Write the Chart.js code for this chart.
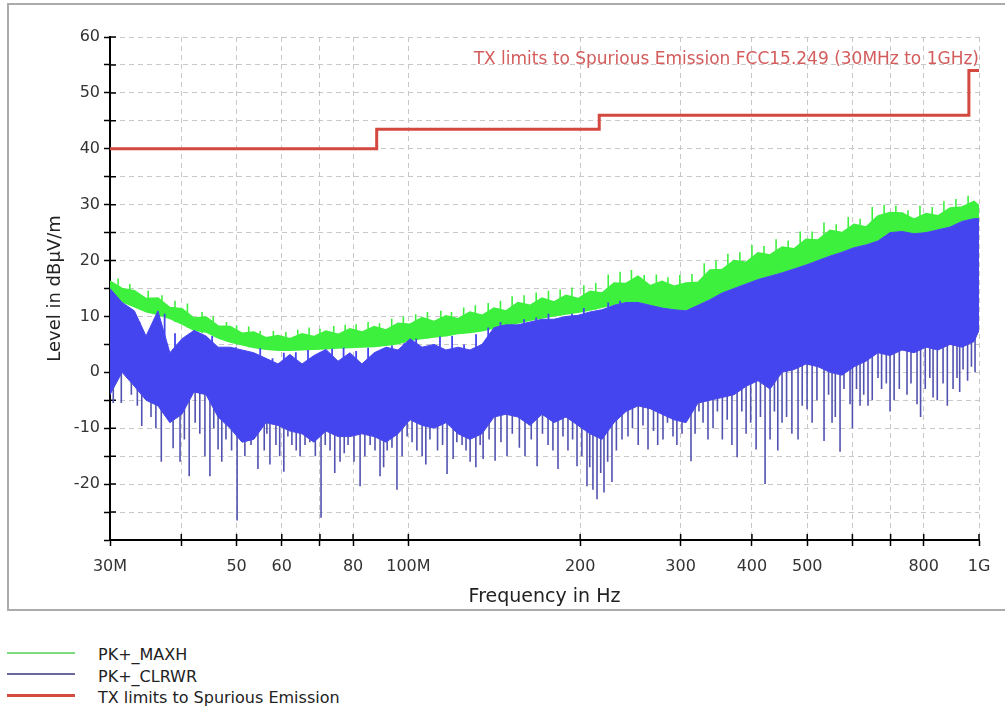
<!DOCTYPE html>
<html>
<head>
<meta charset="utf-8">
<title>Spurious emission scan</title>
<script src="https://cdn.jsdelivr.net/npm/chart.js@4.4.1/dist/chart.umd.min.js"></script>
<style>
  html, body { margin: 0; background: #fff; overflow: hidden; }
  body { font-family: "DejaVu Sans", sans-serif; }
  #box { position: absolute; left: 7px; top: 3px; width: 1000px; height: 604px; border: 2px solid #ababab; }
  #legend { position: absolute; left: 0; top: 644px; font-size: 16px; color: #222; }
  .row { position: relative; height: 21.5px; line-height: 21.5px; padding-left: 98px; white-space: nowrap; }
  .row span { position: absolute; left: 7px; width: 68px; }
</style>
</head>
<body>
<div id="box"><canvas id="scan" width="1000" height="604"></canvas></div>
<div id="legend">
  <div class="row"><span style="top:8px;border-top:2px solid #7ddc7d"></span>PK+_MAXH</div>
  <div class="row"><span style="top:7px;border-top:2px solid #6a6a9a"></span>PK+_CLRWR</div>
  <div class="row"><span style="top:7px;border-top:3px solid #d24a40"></span>TX limits to Spurious Emission</div>
</div>
<script>
// frequencies in MHz
const freqMHz = [30, 31.5, 33.1, 34.7, 36.4, 38.2, 40.1, 42.1, 44.2, 46.4,
  48.7, 51.1, 53.6, 56.3, 59.1, 62.0, 65.1, 68.3, 71.7, 75.3,
  79.0, 82.9, 87.1, 91.4, 95.9, 100.7, 105.7, 110.9, 116.4, 122.2,
  128.2, 134.6, 141.3, 148.3, 155.6, 163.4, 171.5, 180.0, 188.9, 198.3,
  208.1, 218.5, 229.3, 240.7, 252.6, 265.2, 278.3, 292.1, 306.6, 321.8,
  337.8, 354.6, 372.2, 390.6, 410.0, 430.3, 451.7, 474.1, 497.6, 522.3,
  548.2, 575.5, 604.0, 633.9, 665.3, 698.4, 733.0, 769.4, 807.6, 847.6,
  889.7, 933.8, 980.2, 1000];

// PK+_MAXH trace, upper and lower edge of the green band (dBuV/m)
const maxhPeak = [16.3, 15.0, 14.6, 13.2, 13.3, 11.6, 11.4, 9.7, 9.9, 8.3,
  8.2, 7.0, 7.2, 6.2, 6.6, 6.0, 6.9, 6.4, 7.4, 6.8,
  7.8, 7.2, 8.2, 7.6, 8.8, 8.6, 9.8, 9.1, 10.1, 9.6,
  10.8, 10.2, 11.5, 11.0, 12.5, 12.0, 13.3, 12.6, 13.8, 13.2,
  14.5, 14.2, 16.0, 15.9, 17.2, 15.5, 16.3, 15.4, 16.0, 16.1,
  18.3, 18.4, 20.0, 19.7, 21.4, 21.0, 22.4, 22.1, 23.8, 23.7,
  25.4, 25.0, 26.5, 26.0, 28.0, 28.6, 28.5, 27.4, 28.4, 28.0,
  29.4, 29.6, 30.6, 29.8];
const maxhFloor = [14.5, 12.5, 11.6, 10.7, 10.2, 9.5, 8.5, 7.4, 7.1, 6.0,
  5.3, 4.8, 4.3, 4.0, 3.8, 3.8, 3.9, 4.0, 4.1, 4.2,
  4.3, 4.4, 4.5, 4.7, 5.0, 5.6, 5.9, 6.2, 6.4, 6.8,
  7.0, 7.3, 7.8, 8.3, 8.7, 9.2, 9.6, 10.0, 10.3, 10.6,
  11.0, 11.5, 12.0, 12.5, 12.5, 12.0, 11.5, 11.2, 11.0, 12.0,
  13.0, 14.2, 15.0, 15.8, 16.6, 17.2, 17.8, 18.5, 19.2, 20.0,
  20.8, 21.5, 22.3, 22.8, 23.5, 25.0, 25.2, 24.8, 25.0, 25.5,
  26.0, 27.0, 27.5, 27.5];

// single PK+_MAXH peaks sticking out of the band: freq, peak, band level
const maxhSpikeFreqs = [31, 32.5, 35, 37, 39, 41, 43.5, 45.5, 48, 50,
  52.5, 55, 58, 61, 64, 67, 70, 74, 77.5, 81,
  85, 89, 93.5, 98, 103, 108, 114, 119, 125, 131,
  138, 145, 152, 159.5, 167.5, 176, 184.5, 193.5, 203, 213,
  224, 235, 246, 259, 272, 285, 299, 314, 330, 346,
  363, 381, 400, 420, 441, 463, 486, 510, 535, 562,
  590, 619, 650, 682, 715, 751, 788, 828, 868, 911, 957];
const maxhSpikeLevels = [16.8, 15.8, 14.6, 13.8, 12.8, 12.3, 10.8, 10, 9, 8.4,
  8.2, 7.4, 7.4, 7.2, 7.6, 8, 7.8, 8.3, 8.5, 8.6,
  9, 8.8, 9.6, 10, 10.4, 10.8, 11, 10.8, 11.6, 12,
  12.4, 12.8, 13.6, 13.8, 14.3, 14.6, 14.8, 15.2, 15.6, 16,
  17.5, 18, 18.3, 17.4, 17.5, 17, 17.4, 17.6, 19.5, 20,
  21.2, 21.5, 22.8, 22.6, 23.8, 23.6, 25.2, 25.2, 26.8, 26.5,
  27.8, 27.5, 29.6, 30, 29.8, 29, 29.8, 29.6, 30.6, 31, 31.6];
const maxhSpikeFrom = [13, 12, 11, 10, 9, 8, 7, 6.5, 5.5, 5,
  4.5, 4.2, 4, 4, 4, 4, 4.2, 4.2, 4.3, 4.4,
  4.5, 4.6, 4.8, 5.3, 5.8, 6, 6.3, 6.6, 6.9, 7.2,
  7.6, 8, 8.5, 9, 9.4, 9.8, 10.1, 10.4, 10.8, 11.2,
  11.8, 12.3, 12.5, 12.2, 11.7, 11.3, 11.1, 11.5, 12.5, 13.6,
  14.6, 15.4, 16.2, 16.9, 17.5, 18.2, 18.8, 19.6, 20.4, 21.2,
  21.9, 22.5, 23.2, 24.2, 25.1, 25, 24.9, 25.2, 25.8, 26.5, 27.2];

// PK+_CLRWR trace, top and bottom of the dense blue body
const clrwrPeak = [15.0, 12.5, 11.0, 6.5, 11.0, 3.5, 6.0, 7.5, 6.5, 4.5,
  4.5, 4.0, 3.5, 2.5, 1.5, 3.2, 1.5, 3.0, 4.1, 2.0,
  3.5, 1.5, 3.5, 4.5, 4.0, 6.0, 4.5, 5.0, 4.0, 4.5,
  4.0, 5.0, 8.0, 8.5, 8.5, 9.0, 9.5, 9.5, 10.0, 10.2,
  10.8, 11.2, 12.0, 12.5, 12.5, 12.0, 11.5, 11.2, 11.0, 12.0,
  13.0, 14.2, 15.0, 15.8, 16.6, 17.2, 17.8, 18.5, 19.2, 20.0,
  20.8, 21.5, 22.3, 22.8, 23.5, 25.0, 25.2, 24.8, 25.0, 25.5,
  26.0, 27.0, 27.5, 27.5];
const clrwrFloor = [-4.0, 0.0, -2.5, -5.0, -6.0, -9.0, -7.5, -3.5, -4.0, -8.0,
  -10.0, -12.5, -12.0, -9.0, -9.5, -10.5, -11.0, -12.5, -10.5, -11.5,
  -11.5, -11.0, -11.5, -12.5, -11.0, -8.5, -9.5, -10.0, -9.0, -11.0,
  -12.0, -11.0, -8.0, -7.5, -8.0, -9.5, -7.5, -9.0, -8.0, -9.5,
  -11.0, -12.0, -9.0, -7.0, -6.0, -6.5, -7.5, -8.5, -9.0, -5.5,
  -5.0, -4.5, -4.0, -2.5, -1.5, -3.0, 0.0, 0.5, 1.5, 1.0,
  0.0, -0.5, 1.0, 2.0, 3.5, 3.0, 4.0, 3.5, 4.5, 4.0,
  5.0, 4.5, 5.5, 7.5];

// single PK+_CLRWR peaks above the blue body
const peakFreqs = [32.3, 33.8, 35.9, 37.4, 39.0, 41.0, 43.0, 45.3, 47.5, 49.8,
  52.3, 55.0, 57.8, 60.5, 63.5, 66.7, 70.0, 73.5, 77.0, 81.0,
  85.0, 89.2, 93.6, 98.3, 103.2, 108.3, 113.6, 119.3, 125.2, 131.4,
  138, 145, 152, 159.5, 167.5, 176, 184.5, 193.5, 203, 213, 224, 235];
const peakLevels = [10.5, 9, 8.5, 10.5, 7, 6.5, 5.5, 6.5, 3.5, 4.5,
  3.0, 4.3, 2.5, 3.5, 3.6, 4.0, 2.0, 4.2, 4.4, 3.8,
  4.4, 3.0, 4.8, 5.2, 6.0, 3.5, 6.4, 6.5, 5.0, 6.8,
  8, 9, 8, 9.5, 9.8, 10.5, 9.5, 10.5, 11.5, 10.5, 12.5, 12.8];

// single deep minima of PK+_CLRWR below the body: freq, minimum, body level
const dipFreqs = [30.4, 31.4, 34.1, 35.4, 36.9, 38.7, 39.8, 41.3, 43.1, 44.9,
  46.4, 47.9, 50.1, 51.7, 54.5, 55.9, 57.2, 58.6, 60.5, 62.5,
  64.6, 67.2, 70.3, 72.9, 75.9, 78.4, 82.3, 85.7, 89.2, 91.8,
  95.5, 101.5, 105.7, 109.1, 116.9, 124.2, 128.3, 135.2, 141.9, 148.9,
  160.1, 168.1, 175.7, 182.9, 190.4, 197.5, 205.6, 210.6, 214.1, 220.2,
  227.4, 236.8, 242.6, 263.0, 279.4, 290.9, 301.7, 312.8, 328.4, 341.9,
  376.8, 390.7, 406.8, 421.8, 430.4, 451.7, 481.8, 499.7, 535.1, 552.7,
  570.8, 594.3, 618.8, 639.0, 665.3, 698.4, 747.9, 778.8, 830.8, 865.0,
  900.6, 937.7, 984.2,
  32.7, 33.5, 36.1, 37.8, 40.5, 42.3, 44.0, 45.6, 47.1, 49.0,
  50.8, 53.0, 56.5, 59.5, 61.5, 63.6, 65.9, 68.7, 71.5, 74.3,
  77.2, 80.3, 83.9, 87.4, 90.5, 93.6, 97.5, 99.5, 103.5, 107.3,
  112.5, 114.8, 119.8, 121.6, 126.2, 131.3, 133.6,
  138.5, 145.3, 152.1, 156.5, 164.2, 171.8, 179.2, 186.6, 194.0, 201.4,
  207.9, 217.3, 223.5, 231.5, 247.0, 252.8, 257.7, 268.9, 273.5, 284.5, 295.5,
  307, 318, 323, 335, 348, 355, 362, 369, 384, 398,
  414, 438, 444, 460, 470, 490, 510, 520, 545, 560,
  580, 600, 610, 628, 650, 675, 688, 710, 725, 760,
  790, 805, 820, 845, 880, 915, 925, 955, 970];
const dipLevels = [-5.5, -5.5, -9.6, -8, -16, -13.6, -16, -18.6, -11, -18.6,
  -13.8, -12, -26.5, -15, -17.3, -14, -16.5, -13, -17.8, -13,
  -15, -12.5, -26, -14, -16, -13, -20.4, -13, -18.6, -14,
  -21, -12.5, -15, -12, -18.2, -13, -16, -15.5, -15.8, -15,
  -15, -16.8, -13, -17.3, -14, -16.8, -20.4, -21, -22.7, -21.5,
  -19.6, -12, -11.5, -13.8, -12, -11.5, -11, -15.9, -9, -10,
  -15.2, -11, -13.8, -20, -12, -9, -12, -6.6, -12.3, -9,
  -14.2, -5.7, -6, -6, -1, -7, -4, -5.7, -4.5, -2,
  -3, 0.5, 0,
  -4, -6, -10, -8, -12, -9, -15, -10, -16, -14,
  -12, -13, -11, -15, -11.5, -14, -13, -15, -13, -18,
  -14.5, -16, -15, -14, -17, -13.5, -15, -11.5, -14, -16.5,
  -14, -13, -15.5, -12.5, -14, -17, -13,
  -12, -12.5, -11, -13.5, -12, -11, -14, -11.5, -12, -15,
  -17, -18, -16, -14, -10, -13, -9.5, -10.5, -13, -9, -13,
  -8, -11, -7, -12, -7, -12, -8.5, -13, -7, -9,
  -8, -7, -14, -8, -11, -6, -9, -5, -4, -8,
  -3, -10, -3, -4, -5, -3, -2, -5, -3, -2,
  -8, -3, -1, -5, -6, -1, -3.5, -1.5, 1];
const dipFrom = [0, 0, 0, 0, 0, 0, 0, 0, 0, 0,
  0, 0, 0, 0, 0, 0, 0, 0, 0, 0,
  0, 0, 0, 0, 0, 0, 0, 0, 0, 0,
  0, 0, 0, 0, 0, 0, 0, 0, 0, 0,
  0, 0, 0, 0, 0, 0, 0, 0, 0, 0,
  0, 0, 0, 0, 0, 0, 5, 5, 5, 5,
  5, 5, 5, 5, 5, 5, 10, 10, 10, 10,
  10, 10, 10, 10, 10, 10, 10, 10, 10, 10,
  10, 10, 10,
  0, 0, 0, 0, 0, 0, 0, 0, 0, 0,
  0, 0, 0, 0, 0, 0, 0, 0, 0, 0,
  0, 0, 0, 0, 0, 0, 0, 0, 0, 0,
  0, 0, 0, 0, 0, 0, 0,
  0, 0, 0, 0, 0, 0, 0, 0, 0, 0,
  0, 0, 0, 0, 0, 0, 0, 0, 0, 0, 5,
  5, 5, 5, 5, 5, 5, 5, 5, 5, 5,
  5, 5, 5, 5, 5, 10, 10, 10, 10, 10,
  10, 10, 10, 10, 10, 10, 10, 10, 10, 10,
  10, 10, 10, 10, 10, 10, 10, 10, 10];

// FCC 15.249 limit
const limitFreqs = [30, 88, 216, 960, 1000];
const limitLevels = [40, 43.5, 46, 54, 54];
const limitText = 'TX limits to Spurious Emission FCC15.249 (30MHz to 1GHz)';

const xTickValues = [30, 40, 50, 60, 70, 80, 100, 200, 300, 400, 500, 600, 700, 800, 1000];
const xTickLabels = ['30M', '', '50', '60', '', '80', '100M', '200', '300', '400', '500', '', '', '800', '1G'];

const pts = arr => freqMHz.map((f, i) => ({x: f, y: arr[i]}));
// vertical strokes, one per frequency, split by gaps
function strokes(freqs, from, to) {
  const out = [];
  freqs.forEach((f, i) => {
    const a = Array.isArray(from) ? from[i] : from;
    out.push({x: f, y: a}, {x: f, y: to[i]}, {x: f, y: null});
  });
  return out;
}

Chart.defaults.font.family = 'DejaVu Sans';

// tick marks crossing into the plot area
const innerTicks = {
  id: 'innerTicks',
  beforeDatasetsDraw(chart) {
    const {ctx, chartArea, scales} = chart;
    ctx.save();
    ctx.strokeStyle = '#000';
    ctx.lineWidth = 1.5;
    ctx.beginPath();
    scales.x.ticks.forEach(t => {
      const px = scales.x.getPixelForValue(t.value);
      ctx.moveTo(px, chartArea.bottom);
      ctx.lineTo(px, chartArea.bottom - 6);
    });
    scales.y.ticks.forEach(t => {
      const py = scales.y.getPixelForValue(t.value);
      ctx.moveTo(chartArea.left, py);
      ctx.lineTo(chartArea.left + 6, py);
    });
    ctx.stroke();
    ctx.restore();
  }
};

const limitLabel = {
  id: 'limitLabel',
  afterDatasetsDraw(chart) {
    const {ctx, scales} = chart;
    ctx.save();
    ctx.font = '17px "DejaVu Sans"';
    ctx.fillStyle = '#d35c5c';
    ctx.textAlign = 'right';
    ctx.textBaseline = 'middle';
    ctx.fillText(limitText, scales.x.getPixelForValue(1000), scales.y.getPixelForValue(56));
    ctx.restore();
  }
};

new Chart(document.getElementById('scan'), {
  type: 'line',
  data: {
    datasets: [{
      label: 'TX limits to Spurious Emission',
      data: limitFreqs.map((f, i) => ({x: f, y: limitLevels[i]})),
      stepped: 'before',
      borderColor: '#d4493f',
      borderWidth: 3,
      pointRadius: 0,
      order: 0
    }, {
      label: 'PK+_MAXH',
      data: pts(maxhPeak),
      borderColor: '#3ef03e',
      backgroundColor: '#3ef03e',
      borderWidth: 1.5,
      fill: 2,
      pointRadius: 0,
      order: 4
    }, {
      label: 'maxh floor',
      data: pts(maxhFloor),
      borderWidth: 0,
      borderColor: 'rgba(0,0,0,0)',
      pointRadius: 0,
      order: 4
    }, {
      label: 'PK+_CLRWR',
      data: pts(clrwrPeak),
      borderColor: '#4545f0',
      backgroundColor: '#4545f0',
      borderWidth: 1,
      fill: 4,
      pointRadius: 0,
      order: 2
    }, {
      label: 'clrwr floor',
      data: pts(clrwrFloor),
      borderColor: '#4a4ad8',
      borderWidth: 1,
      pointRadius: 0,
      order: 2
    }, {
      label: 'clrwr dips',
      data: strokes(dipFreqs, dipFrom, dipLevels),
      borderColor: '#5252b0',
      borderWidth: 1.6,
      spanGaps: false,
      pointRadius: 0,
      order: 3
    }, {
      label: 'clrwr peaks',
      data: strokes(peakFreqs, 0, peakLevels),
      borderColor: '#4545f0',
      borderWidth: 1.8,
      spanGaps: false,
      pointRadius: 0,
      order: 3
    }, {
      label: 'maxh peaks',
      data: strokes(maxhSpikeFreqs, maxhSpikeFrom, maxhSpikeLevels),
      borderColor: '#3ef03e',
      borderWidth: 1.6,
      spanGaps: false,
      pointRadius: 0,
      order: 5
    }]
  },
  options: {
    responsive: false,
    animation: false,
    devicePixelRatio: 1,
    layout: { padding: { top: 32, right: 30, left: 0, bottom: 0 } },
    plugins: { legend: { display: false }, tooltip: { enabled: false } },
    scales: {
      x: {
        type: 'logarithmic',
        min: 30,
        max: 1000,
        offset: false,
        afterBuildTicks: s => { s.ticks = xTickValues.map(v => ({value: v})); },
        afterFit: s => { s.height = 69; },
        ticks: {
          autoSkip: false,
          maxRotation: 0,
          padding: 11,
          color: '#333',
          font: { size: 16 },
          callback: (v, i) => xTickLabels[i]
        },
        grid: { color: '#c8c8c8', lineWidth: 1, tickColor: '#000', tickLength: 6, tickWidth: 1.5 },
        border: { color: '#000', width: 2, dash: [5, 4] },
        title: { display: true, text: 'Frequency in Hz', color: '#222', font: { size: 19 }, padding: { top: 0, bottom: 1 } }
      },
      y: {
        min: -30,
        max: 60,
        afterFit: s => { s.width = 101; },
        ticks: {
          stepSize: 5,
          padding: 4,
          color: '#333',
          font: { size: 16 },
          callback: v => (v % 10 === 0 && v > -30) ? v : ''
        },
        grid: { color: '#c8c8c8', lineWidth: 1, tickColor: '#000', tickLength: 6, tickWidth: 1.5 },
        border: { color: '#000', width: 2, dash: [5, 4] },
        title: { display: true, text: 'Level in dBµV/m', color: '#222', font: { size: 18 }, padding: { top: 36, bottom: 0 } }
      }
    }
  },
  plugins: [innerTicks, limitLabel]
});
</script>
</body>
</html>
